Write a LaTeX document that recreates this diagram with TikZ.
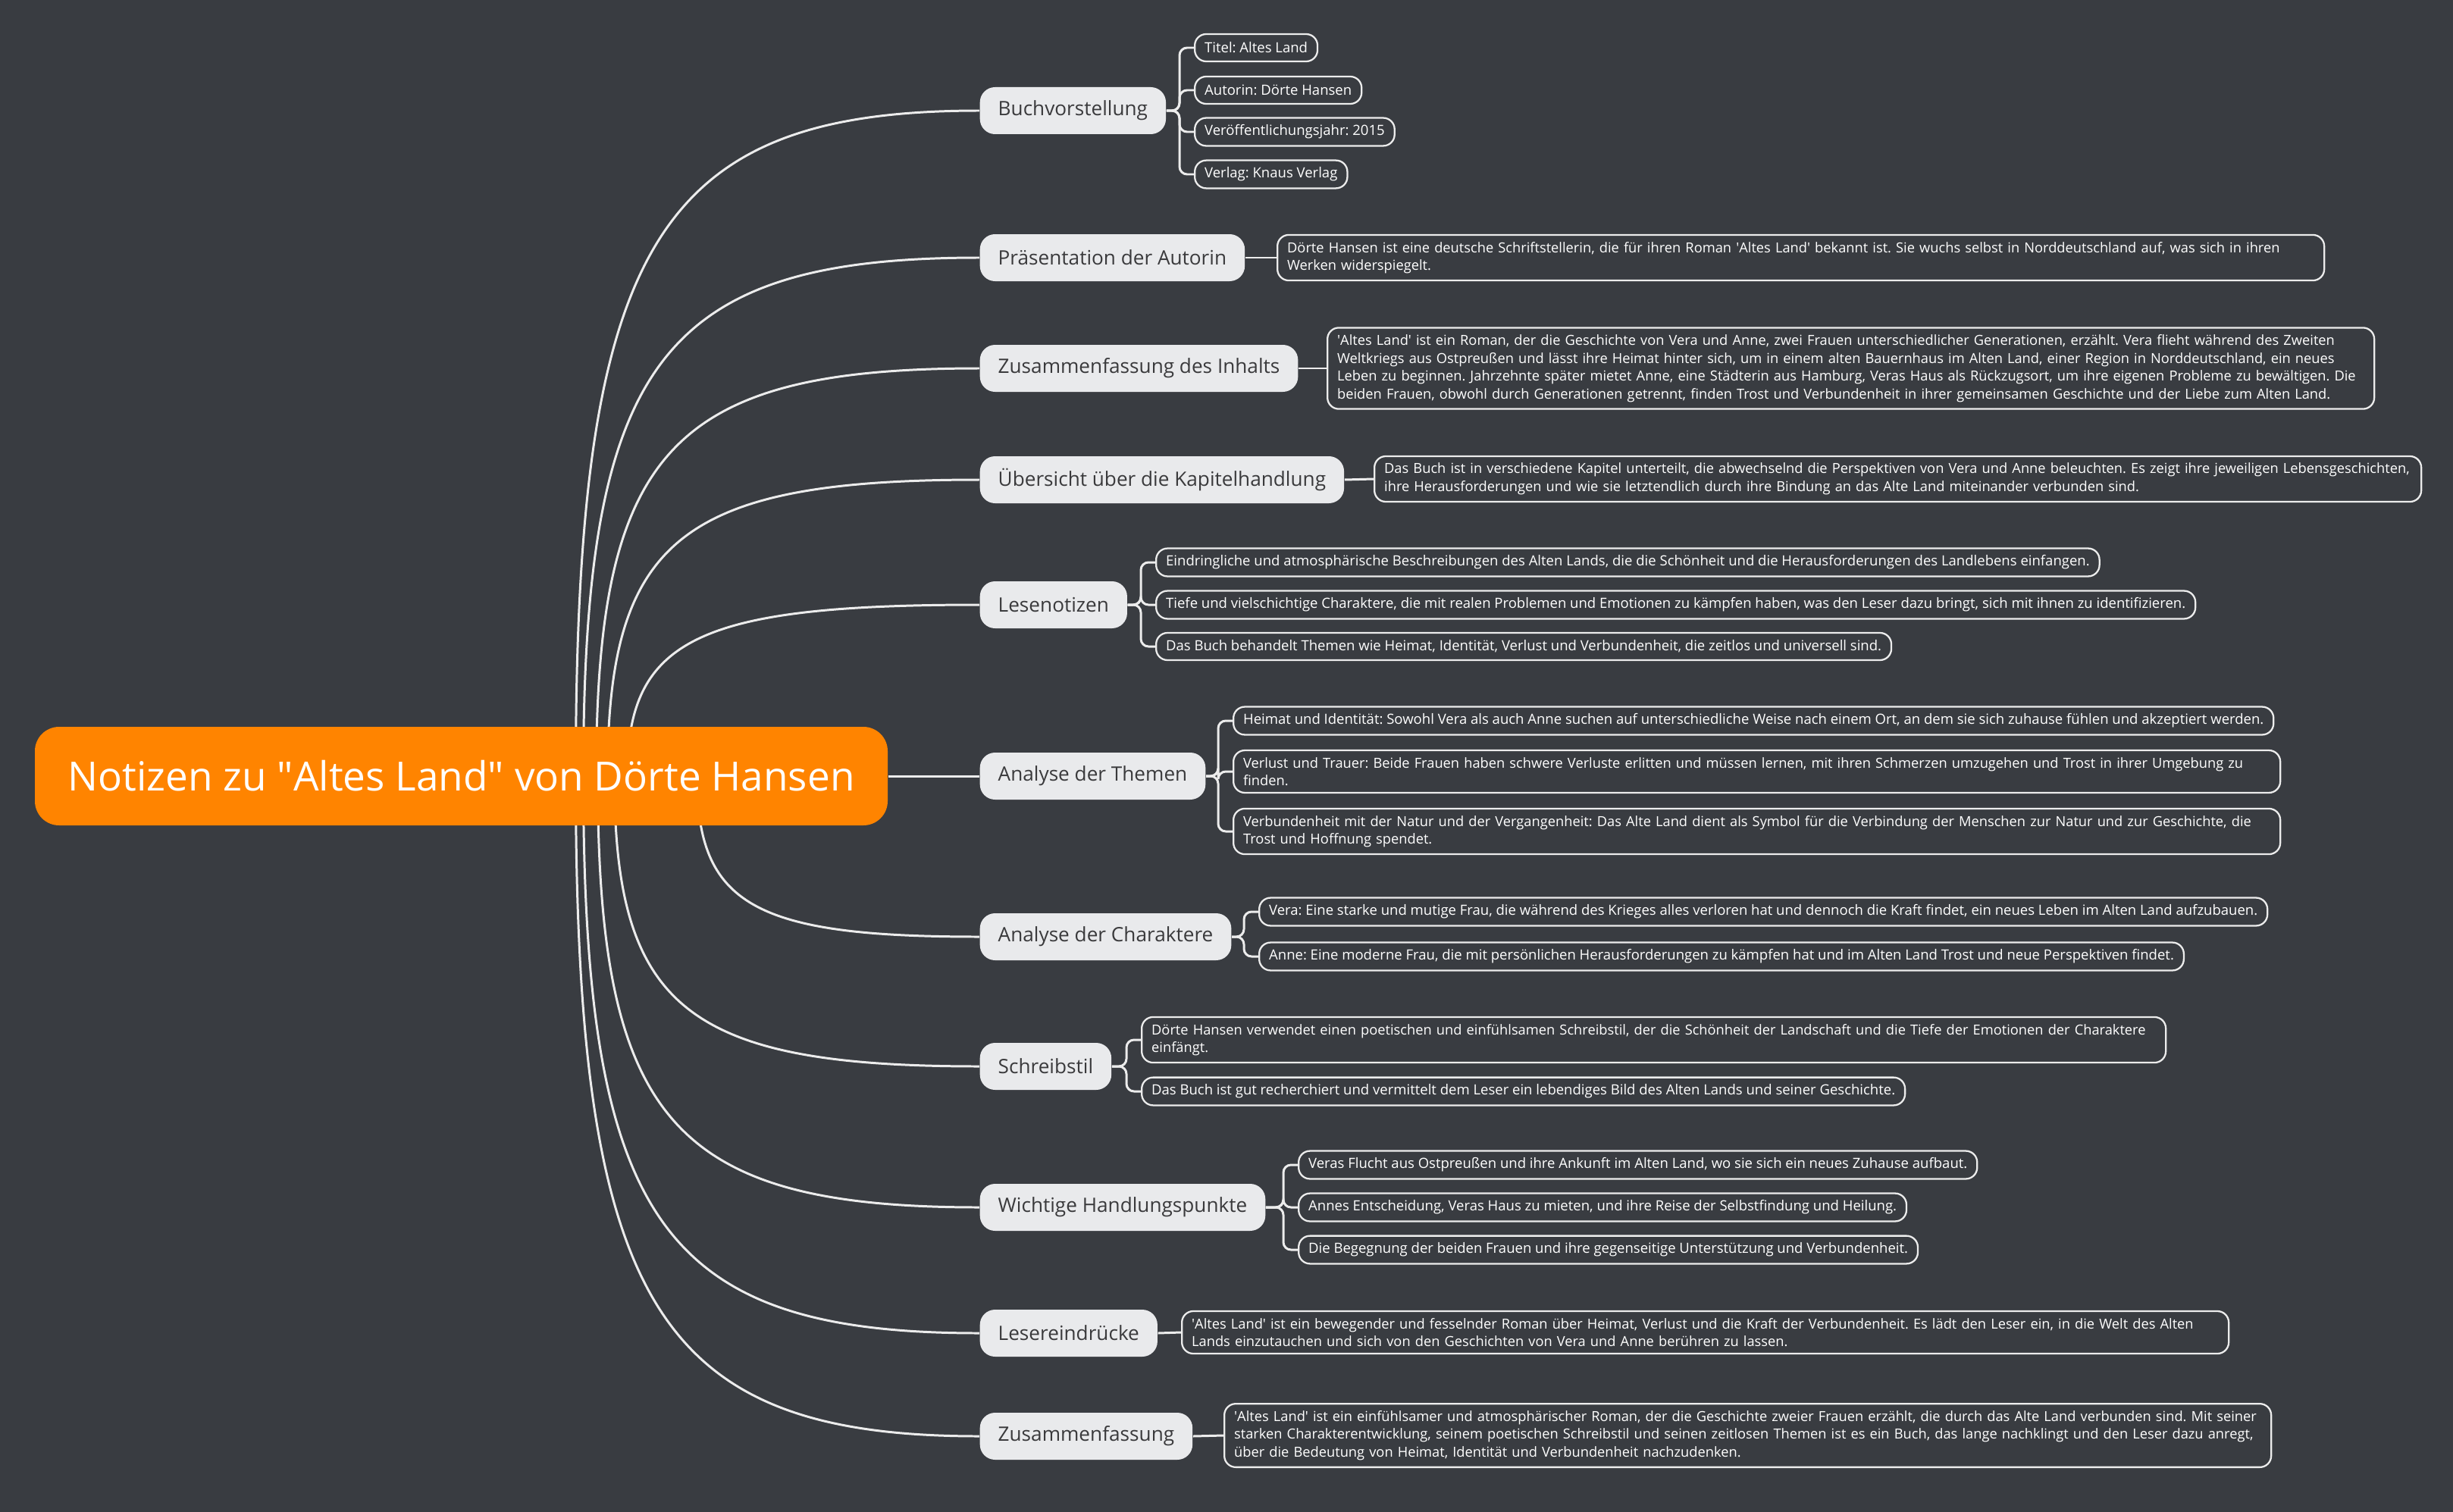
\documentclass[tikz,border=0pt]{standalone}
\usepackage{fontspec}
\setmainfont{Open Sans}
\usetikzlibrary{positioning,calc,backgrounds}

\definecolor{bgdark}{RGB}{57,60,65}
\definecolor{rootorange}{RGB}{255,132,0}
\definecolor{topicgray}{RGB}{233,234,236}
\definecolor{topictext}{RGB}{58,58,60}
\definecolor{wire}{RGB}{236,236,236}
\newcommand{\sq}{\textquotesingle}
\frenchspacing

\begin{document}
\begin{tikzpicture}[
   root/.style={fill=rootorange,rounded corners=0.32cm,text=white,
     font=\fontsize{15.1}{18}\selectfont,minimum width=11.25cm,minimum height=1.3cm},
   topic/.style={fill=topicgray,rounded corners=0.2cm,text=topictext,anchor=west,
     font=\fontsize{7.45}{9}\selectfont,minimum height=0.62cm,inner xsep=0.24cm},
   leaf/.style={draw=wire,line width=0.65pt,fill=bgdark,rounded corners=0.15cm,text=white,anchor=west,
     font=\fontsize{5.27}{6.69}\selectfont,minimum height=0.36cm,inner xsep=0.13cm,inner ysep=2.6pt},
   note/.style={leaf,font=\fontsize{5.2}{6.69}\selectfont,text width=13.55cm,align=left},
   branch/.style={draw=wire,line width=0.85pt},
   fork/.style={branch,rounded corners=0.1cm}]
 \useasboundingbox (0,0) rectangle (32.36,-19.95);
 % central topic
 \node[root] (root) at (6.085,-10.24) {Notizen zu \textquotedbl Altes Land\textquotedbl{} von Dörte Hansen};
 % main topics (left edges aligned at x=12.92)
 \node[topic] (buch)     at (12.92,-1.46)  {Buchvorstellung};
 \node[topic] (praes)    at (12.92,-3.40)  {Präsentation der Autorin};
 \node[topic] (inhalt)   at (12.92,-4.86)  {Zusammenfassung des Inhalts};
 \node[topic] (kapitel)  at (12.92,-6.33)  {Übersicht über die Kapitelhandlung};
 \node[topic] (lesen)    at (12.92,-7.98)  {Lesenotizen};
 \node[topic] (themen)   at (12.92,-10.24) {Analyse der Themen};
 \node[topic] (figuren)  at (12.92,-12.36) {Analyse der Charaktere};
 \node[topic] (stil)     at (12.92,-14.07) {Schreibstil};
 \node[topic] (punkte)   at (12.92,-15.93) {Wichtige Handlungspunkte};
 \node[topic] (eindruck) at (12.92,-17.59) {Lesereindrücke};
 \node[topic] (fazit)    at (12.92,-18.95) {Zusammenfassung};
 % leaves: Buchvorstellung
 \node[leaf] (titel)   at (15.75,-0.63) {Titel: Altes Land};
 \node[leaf] (autorin) at (15.75,-1.19) {Autorin: Dörte Hansen};
 \node[leaf] (jahr)    at (15.75,-1.74) {Veröffentlichungsjahr: 2015};
 \node[leaf] (verlag)  at (15.75,-2.30) {Verlag: Knaus Verlag};
 % notes with a single text
 \node[note] (praesnote) at (16.84,-3.40) {Dörte Hansen ist eine deutsche Schriftstellerin, die für ihren Roman \sq Altes Land\sq{} bekannt ist. Sie wuchs selbst in Norddeutschland auf, was sich in ihren\\Werken widerspiegelt.};
 \node[note] (inhaltnote) at (17.50,-4.86) {\sq Altes Land\sq{} ist ein Roman, der die Geschichte von Vera und Anne, zwei Frauen unterschiedlicher Generationen, erzählt. Vera flieht während des Zweiten\\Weltkriegs aus Ostpreußen und lässt ihre Heimat hinter sich, um in einem alten Bauernhaus im Alten Land, einer Region in Norddeutschland, ein neues\\Leben zu beginnen. Jahrzehnte später mietet Anne, eine Städterin aus Hamburg, Veras Haus als Rückzugsort, um ihre eigenen Probleme zu bewältigen. Die\\beiden Frauen, obwohl durch Generationen getrennt, finden Trost und Verbundenheit in ihrer gemeinsamen Geschichte und der Liebe zum Alten Land.};
 \node[note] (kapitelnote) at (18.12,-6.32) {Das Buch ist in verschiedene Kapitel unterteilt, die abwechselnd die Perspektiven von Vera und Anne beleuchten. Es zeigt ihre jeweiligen Lebensgeschichten,\\ihre Herausforderungen und wie sie letztendlich durch ihre Bindung an das Alte Land miteinander verbunden sind.};
 % leaves: Lesenotizen
 \node[leaf] (atmo)    at (15.24,-7.42) {Eindringliche und atmosphärische Beschreibungen des Alten Lands, die die Schönheit und die Herausforderungen des Landlebens einfangen.};
 \node[leaf] (tiefe)   at (15.24,-7.98) {Tiefe und vielschichtige Charaktere, die mit realen Problemen und Emotionen zu kämpfen haben, was den Leser dazu bringt, sich mit ihnen zu identifizieren.};
 \node[leaf] (zeitlos) at (15.24,-8.53) {Das Buch behandelt Themen wie Heimat, Identität, Verlust und Verbundenheit, die zeitlos und universell sind.};
 % leaves: Analyse der Themen
 \node[leaf] (heimat)  at (16.26,-9.51)  {Heimat und Identität: Sowohl Vera als auch Anne suchen auf unterschiedliche Weise nach einem Ort, an dem sie sich zuhause fühlen und akzeptiert werden.};
 \node[note] (verlust) at (16.26,-10.18) {Verlust und Trauer: Beide Frauen haben schwere Verluste erlitten und müssen lernen, mit ihren Schmerzen umzugehen und Trost in ihrer Umgebung zu\\finden.};
 \node[note] (natur)   at (16.26,-10.97) {Verbundenheit mit der Natur und der Vergangenheit: Das Alte Land dient als Symbol für die Verbindung der Menschen zur Natur und zur Geschichte, die\\Trost und Hoffnung spendet.};
 % leaves: Analyse der Charaktere
 \node[leaf] (vera) at (16.60,-12.03) {Vera: Eine starke und mutige Frau, die während des Krieges alles verloren hat und dennoch die Kraft findet, ein neues Leben im Alten Land aufzubauen.};
 \node[leaf] (anne) at (16.60,-12.62) {Anne: Eine moderne Frau, die mit persönlichen Herausforderungen zu kämpfen hat und im Alten Land Trost und neue Perspektiven findet.};
 % leaves: Schreibstil
 \node[note,text width=13.25cm] (poetisch) at (15.05,-13.72) {Dörte Hansen verwendet einen poetischen und einfühlsamen Schreibstil, der die Schönheit der Landschaft und die Tiefe der Emotionen der Charaktere\\einfängt.};
 \node[leaf] (recherche) at (15.05,-14.40) {Das Buch ist gut recherchiert und vermittelt dem Leser ein lebendiges Bild des Alten Lands und seiner Geschichte.};
 % leaves: Wichtige Handlungspunkte
 \node[leaf] (flucht)    at (17.12,-15.37) {Veras Flucht aus Ostpreußen und ihre Ankunft im Alten Land, wo sie sich ein neues Zuhause aufbaut.};
 \node[leaf] (miete)     at (17.12,-15.93) {Annes Entscheidung, Veras Haus zu mieten, und ihre Reise der Selbstfindung und Heilung.};
 \node[leaf] (begegnung) at (17.12,-16.49) {Die Begegnung der beiden Frauen und ihre gegenseitige Unterstützung und Verbundenheit.};
 % notes: Lesereindrücke, Zusammenfassung
 \node[note] (eindrucknote) at (15.58,-17.58) {\sq Altes Land\sq{} ist ein bewegender und fesselnder Roman über Heimat, Verlust und die Kraft der Verbundenheit. Es lädt den Leser ein, in die Welt des Alten\\Lands einzutauchen und sich von den Geschichten von Vera und Anne berühren zu lassen.};
 \node[note] (fazitnote) at (16.14,-18.94) {\sq Altes Land\sq{} ist ein einfühlsamer und atmosphärischer Roman, der die Geschichte zweier Frauen erzählt, die durch das Alte Land verbunden sind. Mit seiner\\starken Charakterentwicklung, seinem poetischen Schreibstil und seinen zeitlosen Themen ist es ein Buch, das lange nachklingt und den Leser dazu anregt,\\über die Bedeutung von Heimat, Identität und Verbundenheit nachzudenken.};
 \begin{pgfonlayer}{background}
  \fill[bgdark] (0,0) rectangle (32.36,-19.95);
  % curved branches out of the central topic
  \foreach \t/\s in {buch/1.51,praes/1.61,inhalt/1.78,kapitel/1.93,lesen/2.19,
                     figuren/3.11,stil/2.02,punkte/1.80,eindruck/1.61,fazit/1.51}
    \draw[branch] ($(root.center)+(\s,0)$) coordinate (a)
      .. controls ($(a)!0.8!($(root.center |- \t.west)+(\s,0)$)$)
             and ($(\t.west)!0.8!($(root.center |- \t.west)+(\s,0)$)$) .. (\t.west);
  \draw[branch] (root.east) -- (themen.west);
  % forks to the leaves
  \foreach \p/\c in {buch/titel,buch/autorin,buch/jahr,buch/verlag,
                     lesen/atmo,lesen/tiefe,lesen/zeitlos,
                     themen/heimat,themen/verlust,themen/natur,
                     figuren/vera,figuren/anne,stil/poetisch,stil/recherche,
                     punkte/flucht,punkte/miete,punkte/begegnung}
    \draw[fork] (\p.east) -- ($(\p.east -| \c.west)+(-0.19,0)$) |- (\c.west);
  % straight links to single notes
  \foreach \p/\c in {praes/praesnote,inhalt/inhaltnote,kapitel/kapitelnote,
                     eindruck/eindrucknote,fazit/fazitnote}
    \draw[branch] (\p.east) -- (\c.west);
 \end{pgfonlayer}
\end{tikzpicture}
\end{document}
